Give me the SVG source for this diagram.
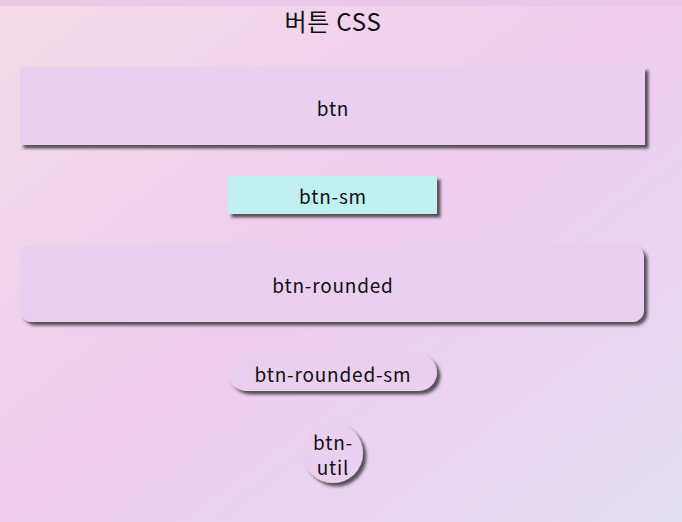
<svg xmlns="http://www.w3.org/2000/svg" width="682" height="522" viewBox="0 0 682 522">
<defs>
<linearGradient id="bg" x1="0" y1="0" x2="1" y2="1">
<stop offset="0" stop-color="#f4dce6"/>
<stop offset="0.5" stop-color="#f0ccf0"/>
<stop offset="1" stop-color="#e2def4"/>
</linearGradient>
<filter id="sh" x="-10%" y="-20%" width="120%" height="150%">
<feDropShadow dx="3.5" dy="3.5" stdDeviation="1.8" flood-color="#333" flood-opacity="0.8"/>
</filter>
<style>
.box{fill:#eacff0;filter:url(#sh)}
.sm{fill:#c0f0f0;filter:url(#sh)}
.lbl{font-family:"Noto Sans CJK KR","Noto Sans",sans-serif;font-size:19px;letter-spacing:0.8px;fill:#111;text-anchor:middle;dominant-baseline:central}
.title{font-family:"Noto Sans CJK KR","Noto Sans",sans-serif;font-size:24px;letter-spacing:0.8px;fill:#111;text-anchor:middle}
</style>
</defs>
<rect width="682" height="522" fill="url(#bg)"/>
<rect width="682" height="6" fill="#e9c6ea" opacity="0.8"/>
<text class="title" x="333" y="31">버튼 CSS</text>
<g id="connectors"></g>
<g id="btn">
<rect class="box" x="20" y="67" width="625" height="78"/>
<text class="lbl" x="333" y="107">btn</text>
</g>
<g id="btn-sm">
<rect class="sm" x="228" y="176" width="209" height="38"/>
<text class="lbl" x="333" y="195">btn-sm</text>
</g>
<g id="btn-rounded">
<rect class="box" x="20" y="245" width="624" height="77" rx="12"/>
<text class="lbl" x="333" y="284">btn-rounded</text>
</g>
<g id="btn-rounded-sm">
<rect class="box" x="228" y="354" width="209" height="37" rx="18.5"/>
<text class="lbl" x="333" y="373">btn-rounded-sm</text>
</g>
<g id="btn-util">
<circle class="box" cx="333" cy="453" r="30"/>
<text class="lbl" x="333" y="441">btn-</text>
<text class="lbl" x="333" y="466">util</text>
</g>
</svg>
